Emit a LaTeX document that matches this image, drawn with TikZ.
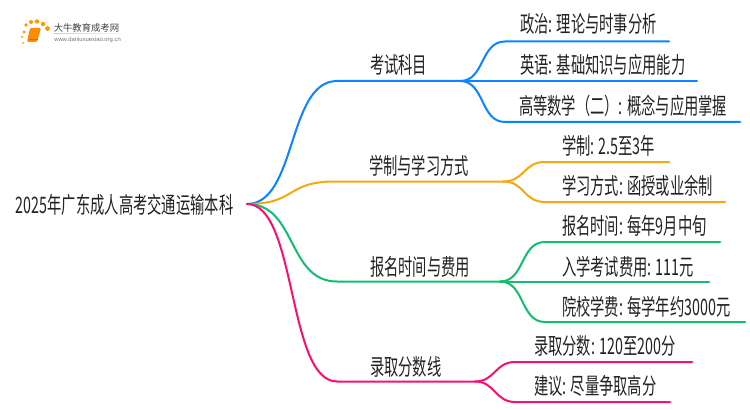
\documentclass[tikz,border=0pt]{standalone}
\usepackage{fontspec}
\setmainfont{Noto Sans CJK SC}
\setsansfont{Liberation Sans}
\definecolor{cblue}{HTML}{0A84FF}
\definecolor{corange}{HTML}{F5A80F}
\definecolor{cgreen}{HTML}{10BE6E}
\definecolor{cpink}{HTML}{FA0F6E}
\definecolor{cink}{HTML}{222222}
\tikzset{
 lab/.style={anchor=base west,inner sep=0,outer sep=0,transform shape,xscale=.63,font=\fontsize{17pt}{17pt}\selectfont,text=cink},
 conn/.style={line width=1.5pt,line cap=round},
}
\begin{document}
\begin{tikzpicture}[x=.75pt,y=-.75pt]
\useasboundingbox (0,0) rectangle (750,410);
% logo
\foreach \a/\b/\r in {24/32/1.6,26/25/1.8,31/22/2,37/21.5/2.2,43/24/2.2,47.5/28.5/2.4,22/37/1.2,23/43/1}{
  \fill[orange!80!yellow] (\a,\b) circle[radius=\r];}
\fill[orange!90!yellow,rounded corners=1pt] (30,28) -- (41,28) -- (37,42) -- (27,42) -- cycle;
\draw[orange!70!red,line width=.6pt] (29,39.5) -- (38,39.5);
\node[anchor=base west,inner sep=0,font=\fontsize{7pt}{7pt}\selectfont,text=black!75,transform shape,xscale=1] (logoname) at (53.5,32) {大牛教育成考网};
\node[anchor=base west,inner sep=0,font=\sffamily\fontsize{4.4pt}{4.4pt}\selectfont,text=black!55] (logourl) at (54,41.5) {www.daniuxuexiao.org.cn};
\shade[left color=black!20,right color=white] (54,33.5) rectangle (133,34);
% labels
\node[lab] (root) at (16,213) {2025年广东成人高考交通运输本科};
\node[lab] (a) at (370,74) {考试科目};
\node[lab] (b) at (369,174) {学制与学习方式};
\node[lab] (c) at (370,275) {报名时间与费用};
\node[lab] (d) at (370,375) {录取分数线};
\node[lab] (a1) at (520,33) {政治: 理论与时事分析};
\node[lab] (a2) at (520,74) {英语: 基础知识与应用能力};
\node[lab] (a3) at (519,114) {高等数学（二）: 概念与应用掌握};
\node[lab] (b1) at (562,154) {学制: 2.5至3年};
\node[lab] (b2) at (562,194) {学习方式: 函授或业余制};
\node[lab] (c1) at (562,234) {报名时间: 每年9月中旬};
\node[lab] (c2) at (562,275) {入学考试费用: 111元};
\node[lab] (c3) at (562,315) {院校学费: 每学年约3000元};
\node[lab] (d1) at (534,354) {录取分数: 120至200分};
\node[lab] (d2) at (534,394) {建议: 尽量争取高分};
% junction points
\coordinate (o) at (247,204);
\coordinate (as) at (337,81);\coordinate (ae) at (460,81);
\coordinate (bs) at (335,181.5);\coordinate (be) at (503,181.5);
\coordinate (cs) at (337,281.5);\coordinate (ce) at (500,281.5);
\coordinate (ds) at (337,381.5);\coordinate (de) at (475,381.5);
\coordinate (a1s) at (505,41.5);\coordinate (a1e) at (669,41.5);
\coordinate (a2e) at (697,81);
\coordinate (a3s) at (505,122);\coordinate (a3e) at (740,122);
\coordinate (b1s) at (545,162);\coordinate (b1e) at (669,162);
\coordinate (b2s) at (545,202);\coordinate (b2e) at (725,202);
\coordinate (c1s) at (545,242);\coordinate (c1e) at (720,242);
\coordinate (c2e) at (709,281.5);
\coordinate (c3s) at (545,322);\coordinate (c3e) at (745,322);
\coordinate (d1s) at (515,362);\coordinate (d1e) at (692,362);
\coordinate (d2s) at (515,402);\coordinate (d2e) at (670,402);
% connectors
\draw[conn,cblue] (o) .. controls +(50,0) and +(-50,0) .. (as) -- (ae);
\draw[conn,cblue] (ae) .. controls +(25,0) and +(-25,0) .. (a1s) -- (a1e);
\draw[conn,cblue] (ae) -- (a2e);
\draw[conn,cblue] (ae) .. controls +(25,0) and +(-25,0) .. (a3s) -- (a3e);
\draw[conn,corange] (o) .. controls +(50,0) and +(-50,0) .. (bs) -- (be);
\draw[conn,corange] (be) .. controls +(22,0) and +(-22,0) .. (b1s) -- (b1e);
\draw[conn,corange] (be) .. controls +(22,0) and +(-22,0) .. (b2s) -- (b2e);
\draw[conn,cgreen] (o) .. controls +(50,0) and +(-50,0) .. (cs) -- (ce);
\draw[conn,cgreen] (ce) .. controls +(25,0) and +(-25,0) .. (c1s) -- (c1e);
\draw[conn,cgreen] (ce) -- (c2e);
\draw[conn,cgreen] (ce) .. controls +(25,0) and +(-25,0) .. (c3s) -- (c3e);
\draw[conn,cpink] (o) .. controls +(50,0) and +(-50,0) .. (ds) -- (de);
\draw[conn,cpink] (de) .. controls +(20,0) and +(-20,0) .. (d1s) -- (d1e);
\draw[conn,cpink] (de) .. controls +(20,0) and +(-20,0) .. (d2s) -- (d2e);
\end{tikzpicture}
\end{document}
